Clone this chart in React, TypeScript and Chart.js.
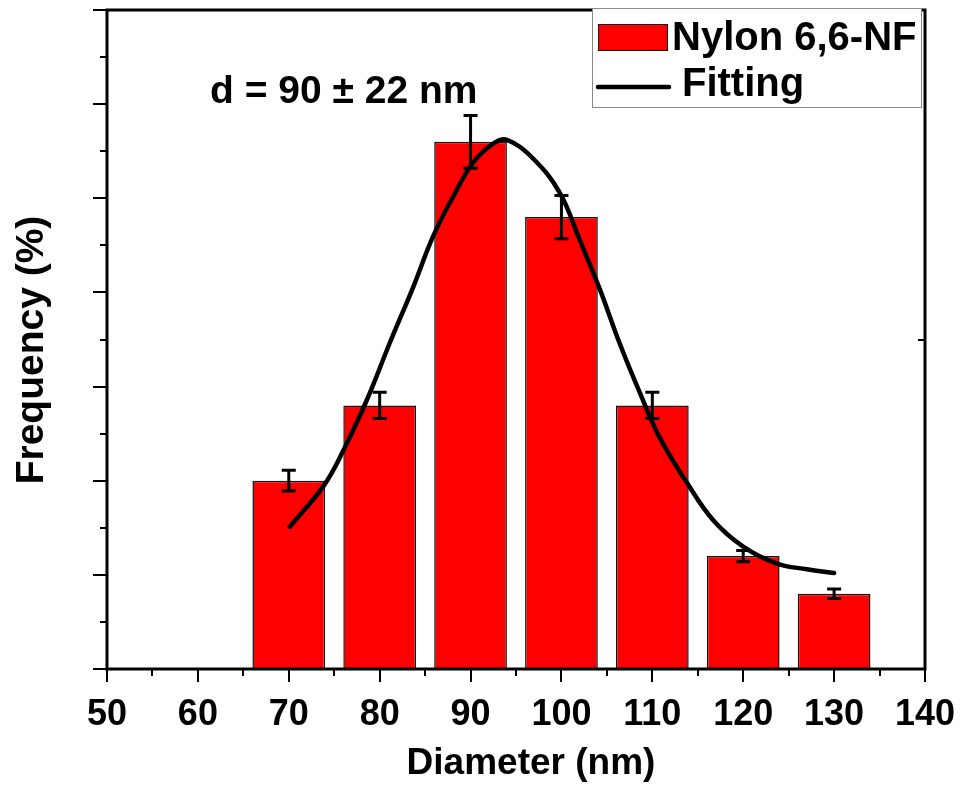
import React, { useEffect, useRef } from "react";
import { Chart, registerables } from "chart.js";

Chart.register(...registerables);

// ---- data ----
const diameters = [70, 80, 90, 100, 110, 120, 130];
const frequency = [10, 14, 28, 24, 14, 6, 4];
const frequencyError = [0.55, 0.7, 1.4, 1.15, 0.7, 0.3, 0.25];

const fitX = [70.1, 73.8, 76.0, 78.6, 81.1, 83.7, 85.9, 88.1, 90.3, 92.5, 94.0, 96.9, 99.8, 102.0, 104.2, 106.4, 108.6, 110.8, 113.8, 116.7, 120.0, 123.7, 127.0, 130.0];
const fitY = [7.55, 9.7, 11.6, 14.3, 17.3, 20.3, 23.0, 25.1, 26.9, 27.9, 28.1, 27.1, 25.3, 22.8, 20.2, 17.3, 14.7, 12.3, 9.9, 7.9, 6.5, 5.6, 5.3, 5.1];

const xMajorTicks = [50, 60, 70, 80, 90, 100, 110, 120, 130, 140];
const xMinorTicks = [55, 65, 75, 85, 95, 105, 115, 125, 135];
const yMajorTicks = [0, 5, 10, 15, 20, 25, 30, 35];
const yMinorTicks = [2.5, 7.5, 12.5, 17.5, 22.5, 27.5, 32.5];
const yRightTicks = [17.5];

const seriesLabels = ["Nylon 6,6-NF", "Fitting"];
const annotationText = "d = 90 \u00B1 22 nm";
const xTitle = "Diameter (nm)";
const yTitle = "Frequency (%)";

const FONT = "'Liberation Sans', Arial, sans-serif";

const customPlugin = {
  id: "custom",
  afterDatasetsDraw(chart: any) {
    const { ctx, chartArea: a, scales } = chart;
    const x = scales.x;
    const y = scales.y;
    ctx.save();
    // error bars
    const meta = chart.getDatasetMeta(1);
    ctx.strokeStyle = "#000";
    ctx.lineWidth = 3;
    meta.data.forEach((bar: any, i: number) => {
      const top = y.getPixelForValue(frequency[i] + frequencyError[i]);
      const bot = y.getPixelForValue(frequency[i] - frequencyError[i]);
      ctx.beginPath();
      ctx.moveTo(bar.x, top);
      ctx.lineTo(bar.x, bot);
      ctx.moveTo(bar.x - 7, top);
      ctx.lineTo(bar.x + 7, top);
      ctx.moveTo(bar.x - 7, bot);
      ctx.lineTo(bar.x + 7, bot);
      ctx.stroke();
    });
    // frame
    ctx.lineWidth = 3;
    ctx.strokeRect(a.left, a.top, a.right - a.left, a.bottom - a.top);
    // tick marks
    ctx.lineWidth = 2;
    ctx.beginPath();
    xMajorTicks.forEach((v) => {
      const px = Math.round(x.getPixelForValue(v));
      ctx.moveTo(px, a.bottom);
      ctx.lineTo(px, a.bottom + 13);
    });
    xMinorTicks.forEach((v) => {
      const px = Math.round(x.getPixelForValue(v));
      ctx.moveTo(px, a.bottom);
      ctx.lineTo(px, a.bottom + 7);
    });
    yMajorTicks.forEach((v) => {
      const py = Math.round(y.getPixelForValue(v));
      ctx.moveTo(a.left, py);
      ctx.lineTo(a.left - 14, py);
    });
    yMinorTicks.forEach((v) => {
      const py = Math.round(y.getPixelForValue(v));
      ctx.moveTo(a.left, py);
      ctx.lineTo(a.left - 7, py);
    });
    yRightTicks.forEach((v) => {
      const py = Math.round(y.getPixelForValue(v));
      ctx.moveTo(a.right, py);
      ctx.lineTo(a.right - 7, py);
    });
    ctx.stroke();
    ctx.restore();
  },
  afterDraw(chart: any) {
    const { ctx } = chart;
    ctx.save();
    ctx.fillStyle = "#000";
    ctx.textBaseline = "alphabetic";
    // annotation
    ctx.font = `bold 39px ${FONT}`;
    ctx.textAlign = "left";
    ctx.fillText(annotationText, 210, 103);
    // axis titles
    ctx.textAlign = "center";
    ctx.font = `bold 37px ${FONT}`;
    ctx.fillText(xTitle, 531, 774);
    ctx.save();
    ctx.font = `bold 39px ${FONT}`;
    ctx.translate(43, 350);
    ctx.rotate(-Math.PI / 2);
    ctx.fillText(yTitle, 0, 0);
    ctx.restore();
    // legend box
    ctx.fillStyle = "#fff";
    ctx.fillRect(592, 8, 330, 100);
    ctx.strokeStyle = "#888";
    ctx.lineWidth = 1;
    ctx.strokeRect(592.5, 8.5, 329, 99);
    // swatch
    ctx.fillStyle = "#ff0000";
    ctx.fillRect(598, 24, 70, 27);
    ctx.strokeStyle = "#111";
    ctx.strokeRect(598.5, 24.5, 69, 26);
    // line sample
    ctx.strokeStyle = "#000";
    ctx.lineWidth = 4.5;
    ctx.lineCap = "round";
    ctx.beginPath();
    ctx.moveTo(598, 87);
    ctx.lineTo(669, 87);
    ctx.stroke();
    ctx.fillStyle = "#000";
    ctx.textAlign = "left";
    ctx.font = `bold 40px ${FONT}`;
    ctx.fillText(seriesLabels[0], 672, 50);
    ctx.fillText(seriesLabels[1], 682, 96);
    ctx.restore();
  },
};

export default function App() {
  const canvasRef = useRef<HTMLCanvasElement | null>(null);

  useEffect(() => {
    if (!canvasRef.current) return;
    const chart = new Chart(canvasRef.current, {
      type: "bar",
      data: {
        datasets: [
          {
            type: "line",
            label: seriesLabels[1],
            data: fitX.map((v, i) => ({ x: v, y: fitY[i] })),
            borderColor: "#000",
            borderWidth: 4.5,
            borderCapStyle: "round",
            pointRadius: 0,
            tension: 0.4,
            fill: false,
            order: 1,
          } as any,
          {
            type: "bar",
            label: seriesLabels[0],
            data: diameters.map((v, i) => ({ x: v, y: frequency[i] })),
            backgroundColor: "#ff0000",
            borderColor: "#111",
            borderWidth: 1.5,
            categoryPercentage: 1,
            barPercentage: 0.8,
            order: 2,
          } as any,
        ],
      },
      options: {
        responsive: false,
        animation: false,
        devicePixelRatio: 1,
        layout: { padding: { left: 0, top: 10, right: 38, bottom: 0 } },
        plugins: {
          legend: { display: false },
          tooltip: { enabled: false },
        },
        scales: {
          x: {
            type: "linear",
            min: 50,
            max: 140,
            offset: false,
            grid: { display: false },
            border: { display: false },
            ticks: {
              stepSize: 10,
              color: "#000",
              padding: 16,
              maxRotation: 0,
              font: { family: FONT, weight: "bold", size: 36 },
            },
            afterFit: (s: any) => {
              s.height = 118;
              s.paddingLeft = 0;
              s.paddingRight = 0;
            },
          },
          y: {
            type: "linear",
            min: 0,
            max: 35,
            grid: { display: false },
            border: { display: false },
            ticks: { display: false, stepSize: 2.5 },
            afterFit: (s: any) => {
              s.width = 107;
              s.paddingTop = 0;
              s.paddingBottom = 0;
            },
          },
        },
      } as any,
      plugins: [customPlugin],
    });
    return () => chart.destroy();
  }, []);

  return (
    <div style={{ position: "absolute", left: 0, top: 0, width: 963, height: 787, background: "#fff" }}>
      <canvas ref={canvasRef} width={963} height={787} style={{ display: "block" }} />
    </div>
  );
}
